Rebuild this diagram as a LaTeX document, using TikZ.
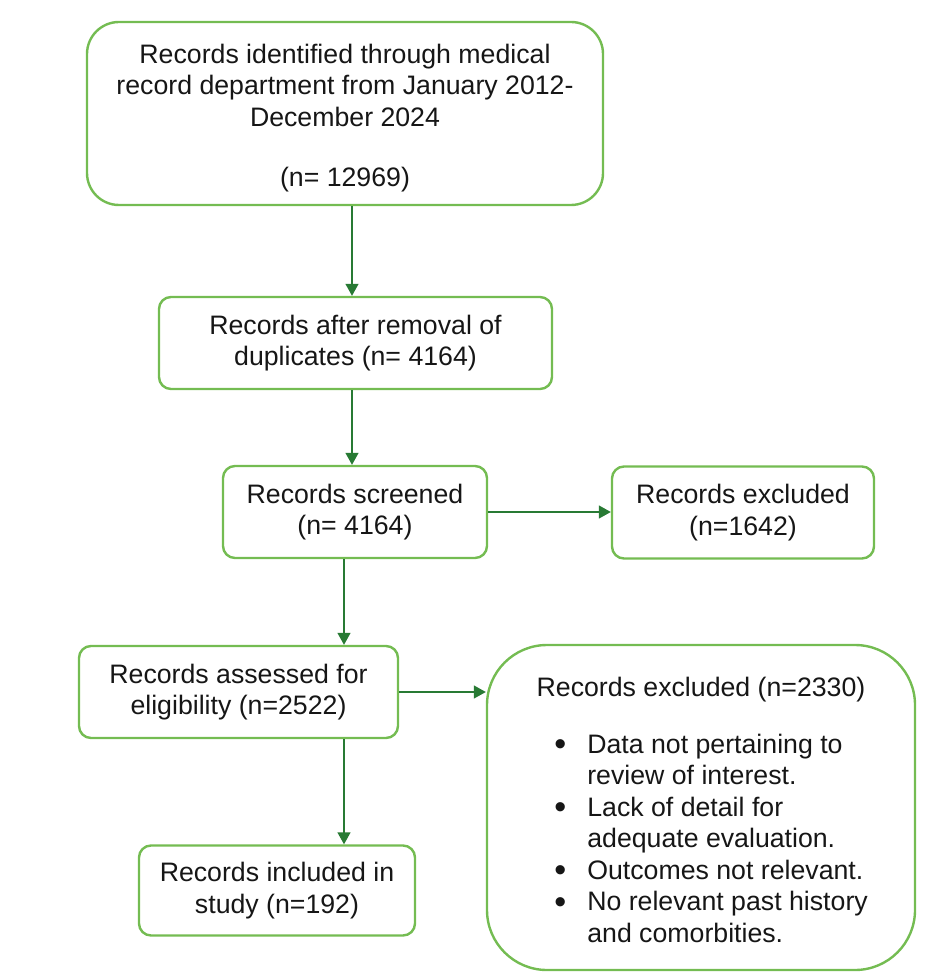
\documentclass[tikz,border=0pt]{standalone}
\usepackage{fontspec}
\setmainfont{Liberation Sans}
\usetikzlibrary{arrows.meta}
\definecolor{mygreen}{RGB}{116,188,82}
\definecolor{mydarkgreen}{RGB}{40,122,52}
\definecolor{mytext}{RGB}{22,22,22}
\newcommand{\heightbox}{46pt}
\newcommand{\mybullet}{\raisebox{-1.2pt}{\fontsize{17}{15.75}\selectfont\textbullet}}
\tikzset{
    common/.style={text=mytext, align=center, font=\fontsize{13.35}{15.75}\selectfont},
    recbox/.style={common, draw=mygreen, line width=1.2pt, rounded corners=6pt, minimum height=\heightbox},
    arr/.style={draw=mydarkgreen, line width=0.7pt, -{Triangle[length=6pt,width=6.5pt]}}
}
\begin{document}
\begin{tikzpicture}[x=0.5pt, y=-0.5pt]
    \useasboundingbox (0,0) rectangle (928,978);
    \coordinate (midaxis) at (352,0);
    \coordinate (leftaxis) at (344,0);

    \node[recbox, minimum width=258pt, minimum height=91.5pt, rounded corners=16pt] (identified) at (345,113.5)
        {\rule{0pt}{14.5pt}Records identified through medical\\ record department from January 2012-\\ December 2024\\[14.5pt] (n= 12969)};
    \node[recbox, minimum width=196.5pt] (duplicates) at (355.5,343) {Records after removal of\\ duplicates (n= 4164)};
    \node[recbox, minimum width=132pt] (screened) at (355,512) {Records screened\\ (n= 4164)};
    \node[recbox, minimum width=131pt] (excluded) at (743,512.5) {Records excluded\\ (n=1642)};
    \node[recbox, minimum width=159.5pt] (assessed) at (238.5,692) {Records assessed for\\ eligibility (n=2522)};
    \node[recbox, minimum width=138pt, minimum height=45pt] (included) at (277,890.5) {Records included in\\ study (n=192)};
    \node[recbox, minimum width=214pt, minimum height=162.5pt, rounded corners=30pt] (exclusions) at (701,807.5) {};
    \node[common] (exclusionstitle) at (701,690) {Records excluded (n=2330)};
    \node[common, anchor=west, inner sep=0pt, align=left] (exclusionslist) at (554,841.5) {%
        \begin{tabular}{@{}l@{\hspace{10.5pt}}l@{}}
            \mybullet & Data not pertaining to\\
                      & review of interest.\\
            \mybullet & Lack of detail for\\
                      & adequate evaluation.\\
            \mybullet & Outcomes not relevant.\\
            \mybullet & No relevant past history\\
                      & and comorbities.
        \end{tabular}};

    \draw[arr] (identified.south -| midaxis) -- (duplicates.north -| midaxis);
    \draw[arr] (duplicates.south -| midaxis) -- (screened.north -| midaxis);
    \draw[arr] (screened.east) -- (excluded.west |- screened.east);
    \draw[arr] (screened.south -| leftaxis) -- (assessed.north -| leftaxis);
    \draw[arr] (assessed.east) -- (assessed.east -| exclusions.west);
    \draw[arr] (assessed.south -| leftaxis) -- (included.north -| leftaxis);
\end{tikzpicture}
\end{document}
